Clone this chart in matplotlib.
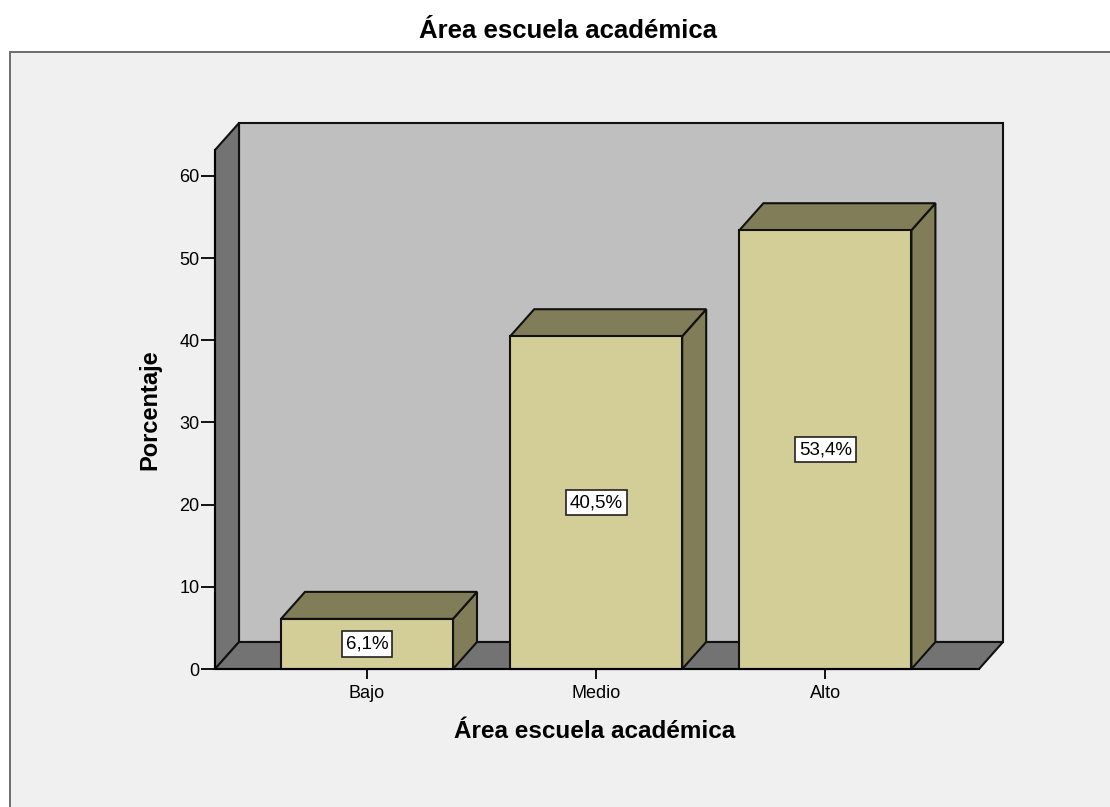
import matplotlib.pyplot as plt
from matplotlib.patches import Polygon, Rectangle

plt.rcParams["font.family"] = ["Liberation Sans", "DejaVu Sans"]

categories = ["Bajo", "Medio", "Alto"]
values = [6.1, 40.5, 53.4]
bar_labels = ["6,1%", "40,5%", "53,4%"]
yticks = [0, 10, 20, 30, 40, 50, 60]

W, H = 1110, 807
fig = plt.figure(figsize=(W / 100, H / 100), dpi=100, facecolor="white")

# grey panel behind the chart, only left and top edge show
fig.add_artist(Rectangle((10 / W, -0.01), 1.1, 1 - 52 / H + 0.01, transform=fig.transFigure,
                         facecolor="#f0f0f0", edgecolor="#6e6e6e", linewidth=1.4, zorder=-1))

# axes = front plane of the 3d box, in pixels
left, right, top, bottom = 215, 979, 150, 669
ax = fig.add_axes([left / W, 1 - bottom / H, (right - left) / W, (bottom - top) / H])
ax.patch.set_alpha(0)
px_per_unit = (669 - 176) / 60
ax.set_ylim(0, (bottom - top) / px_per_unit)
step = 229.2
ax.set_xlim(-(367 - left) / step, (right - 367) / step)
x0, x1 = ax.get_xlim()
y1 = ax.get_ylim()[1]

dx = 24 / step     # depth of the box
dy = 27 / px_per_unit
line = dict(edgecolor="#111111", linewidth=1.5, clip_on=False)

ax.add_patch(Polygon([(x0 + dx, dy), (x1 + dx, dy), (x1 + dx, y1 + dy), (x0 + dx, y1 + dy)],
                     facecolor="#bfbfbf", zorder=1, **line))
ax.add_patch(Polygon([(x0, 0), (x0 + dx, dy), (x0 + dx, y1 + dy), (x0, y1)],
                     facecolor="#737373", zorder=2, **line))
ax.add_patch(Polygon([(x0, 0), (x1, 0), (x1 + dx, dy), (x0 + dx, dy)],
                     facecolor="#737373", zorder=2, **line))

bar_w = 172 / step
for i, v in enumerate(values):
    a, b = i - bar_w / 2, i + bar_w / 2
    ax.add_patch(Polygon([(b, 0), (b + dx, dy), (b + dx, v + dy), (b, v)],
                         facecolor="#807d58", zorder=3, **line))
    ax.add_patch(Polygon([(a, v), (b, v), (b + dx, v + dy), (a + dx, v + dy)],
                         facecolor="#807d58", zorder=3, **line))
    ax.add_patch(Rectangle((a, 0), bar_w, v, facecolor="#d3ce97", zorder=4, **line))
    ax.text(i, v / 2, bar_labels[i], ha="center", va="center", fontsize=13.5, zorder=5,
            bbox=dict(boxstyle="square,pad=0.22", facecolor="white", edgecolor="#222222", linewidth=1.2))

for s in ["top", "right"]:
    ax.spines[s].set_visible(False)
ax.spines["left"].set_zorder(6)
ax.spines["bottom"].set_zorder(6)
ax.spines["left"].set_linewidth(1.5)
ax.spines["bottom"].set_linewidth(1.5)

ax.set_yticks(yticks)
ax.set_xticks(range(len(categories)))
ax.set_xticklabels(categories)
ax.tick_params(axis="y", length=10, width=1.3, labelsize=13, pad=1)
ax.tick_params(axis="x", length=7.5, width=1.3, labelsize=13, pad=4)

fig.text(568 / W, 1 - 31 / H, "Área escuela académica", ha="center", va="center",
         fontsize=18.5, fontweight="bold")
fig.text(595 / W, 1 - 731 / H, "Área escuela académica", ha="center", va="center",
         fontsize=17.5, fontweight="bold")
fig.text(150 / W, 1 - 410 / H, "Porcentaje", ha="center", va="center", rotation=90,
         fontsize=17, fontweight="bold")

fig.savefig("out.png", dpi=100)
